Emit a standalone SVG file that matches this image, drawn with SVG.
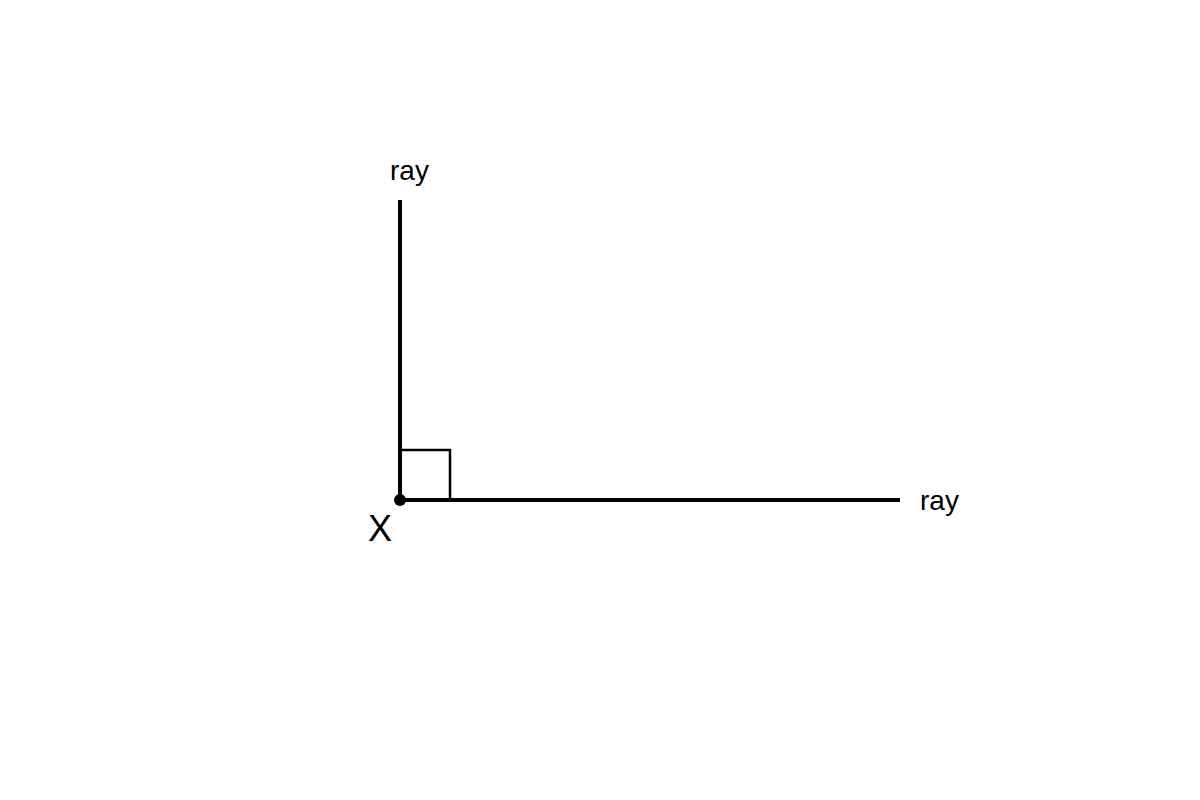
<svg xmlns="http://www.w3.org/2000/svg" width="1200" height="800" viewBox="0 0 1200 800">
<style>
.ray{stroke:#000;stroke-width:4;fill:none}
.mark{stroke:#000;stroke-width:2.5;fill:none}
.lbl{font-family:"Liberation Sans",Arial,sans-serif;fill:#000}
</style>
<rect width="1200" height="800" fill="#fff"/>
<g id="connectors">
<line class="ray" x1="400" y1="200" x2="400" y2="500"/>
<line class="ray" x1="400" y1="500" x2="900" y2="500"/>
</g>
<g id="right-angle">
<polyline class="mark" points="400,450 450,450 450,500"/>
</g>
<g id="vertex-X">
<circle cx="400" cy="500" r="6" fill="#000"/>
<text class="lbl" x="380" y="541" font-size="36" text-anchor="middle">X</text>
</g>
<g id="ray-top">
<text class="lbl" x="390" y="180" font-size="28">ray</text>
</g>
<g id="ray-right">
<text class="lbl" x="920" y="510" font-size="28">ray</text>
</g>
</svg>
